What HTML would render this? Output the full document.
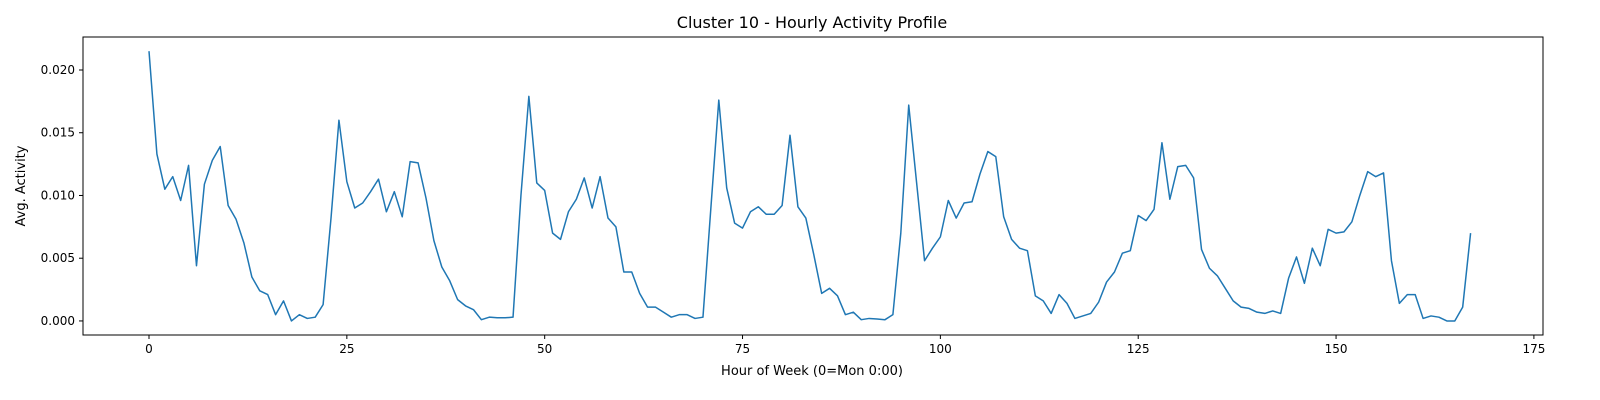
<!DOCTYPE html>
<html><head><meta charset="utf-8"><style>
html,body{margin:0;padding:0;background:#fff;overflow:hidden;width:1600px;height:400px;}
svg{display:block;font-family:"DejaVu Sans","Liberation Sans",sans-serif;}
</style></head><body>
<svg id="chart" width="1600" height="400"></svg>
<script>
const hours = Array.from({length:168},(_,i)=>i);
const activity = [0.0215,0.0133,0.0105,0.0115,0.0096,0.0124,0.0044,0.0109,0.0128,0.0139,0.0092,0.0081,0.0062,0.0035,0.0024,0.0021,0.0005,0.0016,0.0000,0.0005,0.0002,0.0003,0.0013,0.0082,
0.0160,0.0111,0.0090,0.0094,0.0103,0.0113,0.0087,0.0103,0.0083,0.0127,0.0126,0.0098,0.0064,0.0043,0.0032,0.0017,0.0012,0.0009,0.0001,0.0003,0.00025,0.00025,0.0003,0.0100,
0.0179,0.0110,0.0104,0.0070,0.0065,0.0087,0.0097,0.0114,0.0090,0.0115,0.0082,0.0075,0.0039,0.0039,0.0022,0.0011,0.0011,0.0007,0.0003,0.0005,0.0005,0.0002,0.0003,0.0090,
0.0176,0.0106,0.0078,0.0074,0.0087,0.0091,0.0085,0.0085,0.0092,0.0148,0.0091,0.0082,0.0053,0.0022,0.0026,0.0020,0.0005,0.0007,0.0001,0.0002,0.00015,0.0001,0.0005,0.0070,
0.0172,0.0110,0.0048,0.0058,0.0067,0.0096,0.0082,0.0094,0.0095,0.0117,0.0135,0.0131,0.0083,0.0065,0.0058,0.0056,0.0020,0.0016,0.0006,0.0021,0.0014,0.0002,0.0004,0.0006,
0.0015,0.0031,0.0039,0.0054,0.0056,0.0084,0.0080,0.0089,0.0142,0.0097,0.0123,0.0124,0.0114,0.0057,0.0042,0.0036,0.0026,0.0016,0.0011,0.0010,0.0007,0.0006,0.0008,0.0006,
0.0034,0.0051,0.0030,0.0058,0.0044,0.0073,0.0070,0.0071,0.0079,0.0100,0.0119,0.0115,0.0118,0.0048,0.0014,0.0021,0.0021,0.0002,0.0004,0.0003,0.0000,0.0000,0.0011,0.0070];
const xTicks = [0,25,50,75,100,125,150,175];
const yTicks = [0.000,0.005,0.010,0.015,0.020];
const yTickLabels = ["0.000","0.005","0.010","0.015","0.020"];

const L=83,R=1543,T=37,B=335;
const xMin=-8.34,xMax=176.15,yMin=-0.00112,yMax=0.02263;
const xs=h=>L+(h-xMin)/(xMax-xMin)*(R-L);
const ys=v=>B-(v-yMin)/(yMax-yMin)*(B-T);
const svg=document.getElementById('chart');
const NS='http://www.w3.org/2000/svg';
function mk(tag,attrs,parent){const e=document.createElementNS(NS,tag);for(const k in attrs)e.setAttribute(k,attrs[k]);(parent||svg).appendChild(e);return e;}

const t=mk('text',{x:812,y:28,'text-anchor':'middle','font-size':16,fill:'#000'});
t.textContent='Cluster 10 - Hourly Activity Profile';



const pts=activity.map((v,i)=>xs(hours[i]).toFixed(2)+','+ys(v).toFixed(2)).join(' ');
const line=mk('polyline',{points:pts,fill:'none',stroke:'#1f77b4','stroke-width':1.5,'stroke-linejoin':'round'});



const frame=mk('rect',{x:L,y:T,width:R-L,height:B-T,fill:'none',stroke:'#000','stroke-width':1});



xTicks.forEach(v=>{
  const x=xs(v);
  const tk=mk('line',{x1:x,x2:x,y1:B,y2:B+4,stroke:'#000'});
  
  
  const lb=mk('text',{x:x,y:B+18,'text-anchor':'middle','font-size':12,fill:'#000'});
  lb.textContent=String(v);
  
  
});
yTicks.forEach((v,i)=>{
  const y=ys(v);
  const tk=mk('line',{x1:L-4,x2:L,y1:y,y2:y,stroke:'#000'});
  
  
  const lb=mk('text',{x:L-8,y:y+4,'text-anchor':'end','font-size':12,fill:'#000'});
  lb.textContent=yTickLabels[i];
  
  
});
const xt=mk('text',{x:812,y:375,'text-anchor':'middle','font-size':13,fill:'#000'});
xt.textContent='Hour of Week (0=Mon 0:00)';


const yt=mk('text',{x:25,y:186,'text-anchor':'middle','font-size':13,fill:'#000',transform:'rotate(-90 25 186)'});
yt.textContent='Avg. Activity';


</script>
</body></html>
